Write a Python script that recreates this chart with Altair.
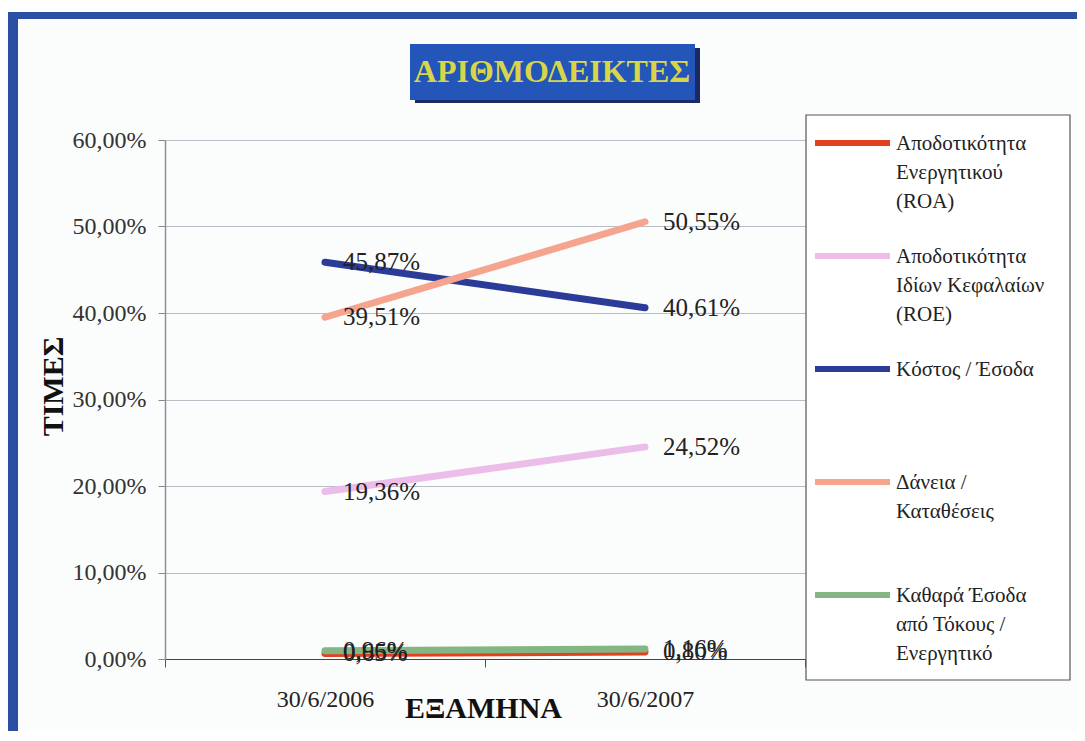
import altair as alt
import pandas as pd

periods = ["30/6/2006", "30/6/2007"]
series = [
    "Αποδοτικότητα Ενεργητικού (ROA)",
    "Αποδοτικότητα Ιδίων Κεφαλαίων (ROE)",
    "Κόστος / Έσοδα",
    "Δάνεια / Καταθέσεις",
    "Καθαρά Έσοδα από Τόκους / Ενεργητικό",
]
legend_text = [
    "Αποδοτικότητα\nΕνεργητικού\n(ROA)",
    "Αποδοτικότητα\nΙδίων Κεφαλαίων\n(ROE)",
    "Κόστος / Έσοδα",
    "Δάνεια /\nΚαταθέσεις",
    "Καθαρά Έσοδα\nαπό Τόκους /\nΕνεργητικό",
]
v2006 = [0.65, 19.36, 45.87, 39.51, 0.96]
v2007 = [0.80, 24.52, 40.61, 50.55, 1.16]
colors = ["#e2411f", "#ebbde8", "#2b3c98", "#f5a48e", "#84b684"]
y_ticks = [0, 10, 20, 30, 40, 50, 60]

FONT = "Liberation Serif"
FRAME = "#2d4fa3"

rows = []
for i, s in enumerate(series):
    for p, v in zip(periods, [v2006[i], v2007[i]]):
        rows.append({"series": s, "period": p, "value": v,
                     "label": f"{v:.2f}%".replace(".", ","), "order": i})
df = pd.DataFrame(rows)

leg_df = pd.DataFrame({"series": series, "text": legend_text, "order": list(range(len(series)))})

color_scale = alt.Scale(domain=series, range=colors)
x_enc = alt.X("period:N", sort=periods,
              scale=alt.Scale(type="band", paddingInner=0, paddingOuter=0),
              axis=alt.Axis(title="ΕΞΑΜΗΝΑ", labelAngle=0, labelPadding=20,
                            labelFont=FONT, labelFontSize=24, labelColor="#222",
                            titleFont=FONT, titleFontSize=30, titleFontWeight="bold",
                            titleColor="#111", titleX=318, titleY=49,
                            titleBaseline="middle",
                            tickBand="extent", tickSize=8, tickColor="#555",
                            domainColor="#444", domainWidth=1.2, grid=False))
y_scale = alt.Scale(domain=[0, 60], nice=False)

base = alt.Chart(df)
lines = base.mark_line(strokeWidth=7, strokeCap="round").encode(
    x=x_enc,
    y=alt.Y("value:Q", scale=y_scale,
            axis=alt.Axis(values=y_ticks,
                          labelExpr="replace(format(datum.value, '.2f'), '.', ',') + '%'",
                          title="ΤΙΜΕΣ", titleAngle=270, titleX=-112, titleY=246,
                          titleAlign="center", titleBaseline="middle",
                          titleFont=FONT, titleFontSize=30, titleFontWeight="bold",
                          titleColor="#111",
                          labelFont=FONT, labelFontSize=24, labelColor="#333",
                          labelPadding=12, tickSize=7, tickColor="#888",
                          domainColor="#8a8f99", domainWidth=1.5,
                          gridColor="#b9bdc5", gridWidth=1)),
    color=alt.Color("series:N", scale=color_scale, legend=None),
    order=alt.Order("order:Q"),
)
labels = base.mark_text(align="left", baseline="middle", dx=18, font=FONT,
                        fontSize=25, color="#222").encode(
    x=alt.X("period:N", sort=periods,
            scale=alt.Scale(type="band", paddingInner=0, paddingOuter=0)),
    y=alt.Y("value:Q", scale=y_scale),
    text="label:N",
)
main = alt.layer(lines, labels)


def deco():
    return alt.Chart(pd.DataFrame({"k": [0]}))


top_bar = deco().mark_rect(color=FRAME).encode(
    x=alt.value(-157), x2=alt.value(912), y=alt.value(-128), y2=alt.value(-121))
left_bar = deco().mark_rect(color=FRAME).encode(
    x=alt.value(-157), x2=alt.value(-147), y=alt.value(-128), y2=alt.value(600))
title_shadow = deco().mark_rect(color="#1b2a62").encode(
    x=alt.value(250), x2=alt.value(535), y=alt.value(-92), y2=alt.value(-37))
title_box = deco().mark_rect(color="#2356b8").encode(
    x=alt.value(245), x2=alt.value(530), y=alt.value(-96), y2=alt.value(-40))
title_text = deco().mark_text(text="ΑΡΙΘΜΟΔΕΙΚΤΕΣ", font=FONT, fontSize=32,
                              fontWeight="bold", color="#d9d54a",
                              align="center", baseline="middle").encode(
    x=alt.value(387), y=alt.value(-68))

legend_box = deco().mark_rect(fill="white", stroke="#555", strokeWidth=1.2).encode(
    x=alt.value(641), x2=alt.value(905), y=alt.value(-25), y2=alt.value(540))

leg_y = alt.Y("series:N", sort=series, axis=None,
              scale=alt.Scale(type="point", range=[3, 455], padding=0))
leg_sym = alt.Chart(leg_df).mark_rule(strokeWidth=6).encode(
    x=alt.value(650), x2=alt.value(725), y=leg_y,
    color=alt.Color("series:N", scale=color_scale, legend=None))
leg_txt = alt.Chart(leg_df).mark_text(align="left", baseline="alphabetic", dy=7,
                                      font=FONT, fontSize=21, color="#222",
                                      lineBreak="\n", lineHeight=29).encode(
    x=alt.value(731), y=leg_y, text="text:N")
legend = alt.layer(legend_box, leg_sym, leg_txt)

decor = alt.layer(top_bar, left_bar, title_shadow, title_box, title_text)

chart = alt.layer(main, decor, legend).resolve_scale(
    y="independent", x="independent", color="independent"
).properties(
    width=640, height=519,
    autosize=alt.AutoSizeParams(type="none"),
    padding={"left": 157, "top": 132, "right": 272, "bottom": 72},
    background="#fbfcfc",
).configure_view(strokeWidth=0)

chart.save("out.html", embed_options={"renderer": "svg", "actions": False})
